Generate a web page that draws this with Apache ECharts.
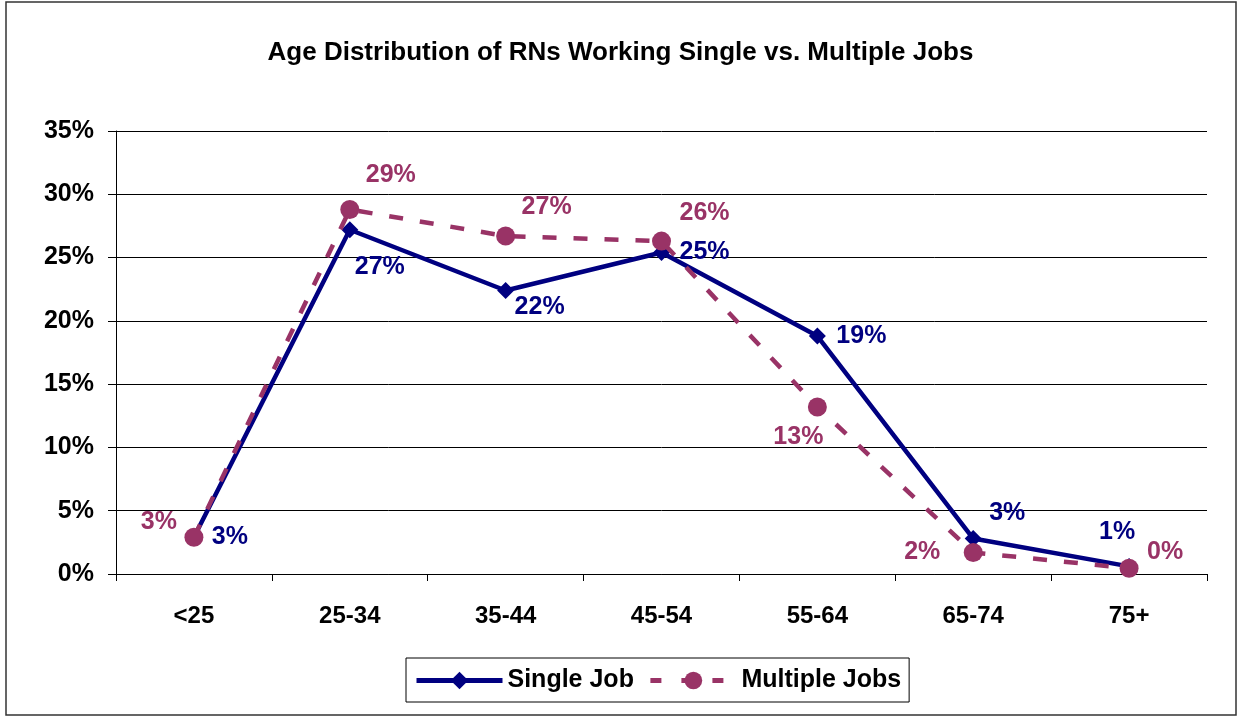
<!DOCTYPE html>
<html><head><meta charset="utf-8">
<script src="https://cdn.jsdelivr.net/npm/echarts@6/dist/echarts.min.js"></script>
<style>html,body{margin:0;padding:0;background:#fff}#c{width:1241px;height:719px}</style>
</head><body><div id="c"></div>
<script>
const categories = ['<25','25-34','35-44','45-54','55-64','65-74','75+'];
const singleJob = [0.029,0.272,0.224,0.254,0.188,0.028,0.006];
const multipleJobs = [0.029,0.288,0.267,0.263,0.132,0.017,0.0045];
const yTicks = [0,0.05,0.10,0.15,0.20,0.25,0.30,0.35];

const singleOffsets = [[36,0],[30,37],[34,17],[43,0],[44,0],[34,-25],[-12,-34]];
const multiOffsets = [[-35,-15],[41,-34],[41,-29],[43,-28],[-19,30],[-51,0],[36,-16]];

const font = 'Liberation Sans, Arial, sans-serif';
function pct(v){return Math.round(v*100)+'%';}

const chart = echarts.init(document.getElementById('c'));
chart.setOption({
  backgroundColor:'#fff',
  animation:false,
  title:{text:'Age Distribution of RNs Working Single vs. Multiple Jobs',left:'center',top:35,
    textStyle:{fontFamily:font,fontWeight:'bold',fontSize:26,color:'#000'}},
  graphic:[{type:'rect',shape:{x:6,y:2,width:1230,height:713},style:{fill:'none',stroke:'#333',lineWidth:1.5},silent:true}],
  grid:{left:116,right:34,top:131,bottom:145},
  legend:{left:406,top:658,padding:[10,8,9,8],borderColor:'#000',borderWidth:1,
    itemWidth:86,itemHeight:22,itemGap:14,
    textStyle:{fontFamily:font,fontWeight:'bold',fontSize:25,color:'#000'},
    data:[
      {name:'Single Job',lineStyle:{width:5,color:'#000080'}},
      {name:'Multiple Jobs',lineStyle:{width:5,color:'#993366',type:[11,20]}}
    ]},
  xAxis:{type:'category',data:categories,boundaryGap:true,
    axisLine:{lineStyle:{color:'#000',width:1}},
    axisTick:{show:true,length:7,lineStyle:{color:'#000'},alignWithLabel:false},
    axisLabel:{margin:30,fontFamily:font,fontWeight:'bold',fontSize:24,color:'#000'}},
  yAxis:{type:'value',min:0,max:0.35,interval:0.05,
    axisLine:{show:true,lineStyle:{color:'#000'}},
    axisTick:{show:true,length:8,lineStyle:{color:'#000'}},
    splitLine:{lineStyle:{color:'#000',width:1}},
    axisLabel:{margin:22,fontFamily:font,fontWeight:'bold',fontSize:25,color:'#000',
      formatter:v=>Math.round(v*100)+'%'}},
  series:[
    {name:'Single Job',type:'line',z:2,
     data:singleJob.map((v,i)=>({value:v,label:{offset:singleOffsets[i]}})),
     symbol:'diamond',symbolSize:17,
     lineStyle:{color:'#000080',width:4.5},itemStyle:{color:'#000080'},
     label:{show:true,position:'inside',align:'center',verticalAlign:'middle',
       formatter:p=>pct(p.value),fontFamily:font,fontWeight:'bold',fontSize:25,color:'#000080'}},
    {name:'Multiple Jobs',type:'line',z:3,
     data:multipleJobs.map((v,i)=>({value:v,label:{offset:multiOffsets[i]}})),
     symbol:'circle',symbolSize:19,
     lineStyle:{color:'#993366',width:4.5,type:[14,17]},itemStyle:{color:'#993366'},
     label:{show:true,position:'inside',align:'center',verticalAlign:'middle',
       formatter:p=>pct(p.value),fontFamily:font,fontWeight:'bold',fontSize:25,color:'#993366'}}
  ]
});
</script></body></html>
